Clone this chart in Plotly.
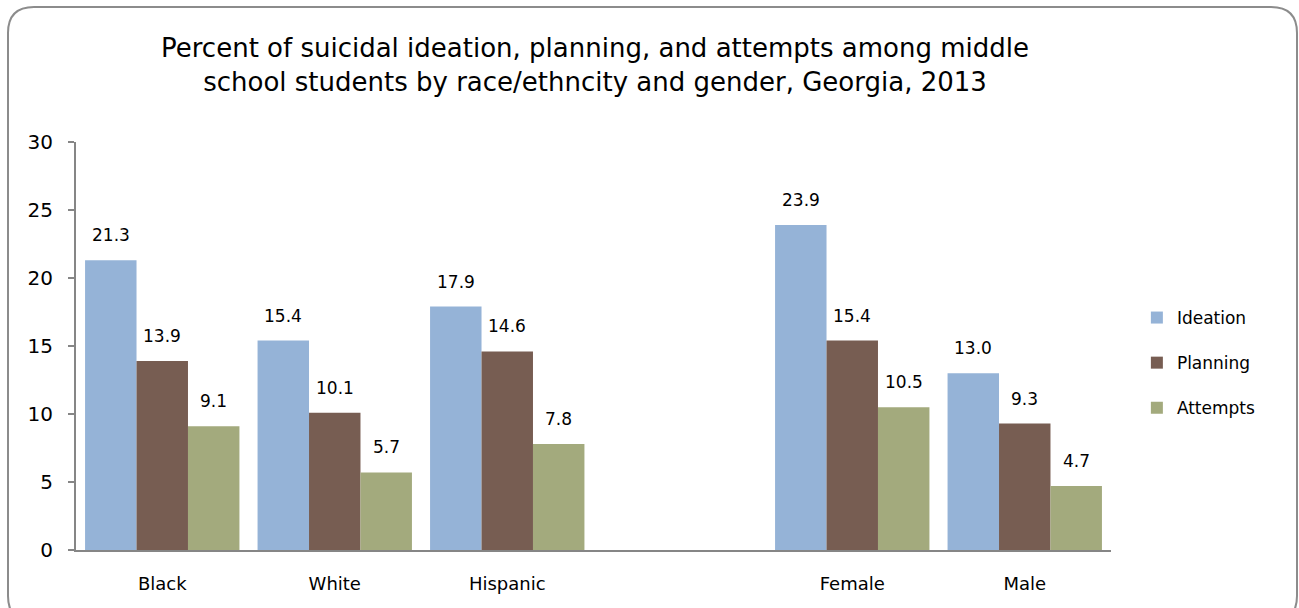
import plotly.graph_objects as go

# Chart data
categories = ["Black", "White", "Hispanic", " ", "Female", "Male"]
ideation = [21.3, 15.4, 17.9, None, 23.9, 13.0]
planning = [13.9, 10.1, 14.6, None, 15.4, 9.3]
attempts = [9.1, 5.7, 7.8, None, 10.5, 4.7]
series_names = ["Ideation", "Planning", "Attempts"]
series_colors = ["#95B3D7", "#775D52", "#A3AA7D"]
y_ticks = [0, 5, 10, 15, 20, 25, 30]

FONT = "DejaVu Sans"
W, H = 1299, 608
ML, MR, MT, MB = 76, 188, 142, 58
PW = W - ML - MR
PH = H - MT - MB
BARGAP = 0.105

fig = go.Figure()
series = [ideation, planning, attempts]
for name, vals, col in zip(series_names, series, series_colors):
    fig.add_trace(go.Bar(
        x=categories, y=vals, name=name, legendgroup=name,
        marker=dict(color=col, line=dict(width=0)),
    ))

# value labels above each bar
cat_px = PW / len(categories)
bar_px = cat_px * (1 - BARGAP) / len(series)
for i, vals in enumerate(series):
    for c, v in zip(categories, vals):
        if v is None:
            continue
        fig.add_annotation(
            x=c, y=v, text=f"{v:.1f}", showarrow=False,
            xshift=(i - 1) * bar_px, yshift=13, yanchor="bottom",
            font=dict(family=FONT, size=17, color="#000000"),
        )

# rounded outer frame, defined in pixels and converted to paper coordinates
def px(xp, yp):
    return (xp - ML) / PW, (H - MB - yp) / PH

x0, y0, x1, y1, r = 8, 7, 1297, 622, 26
pts = [
    ("M", [(x0 + r, y0)]),
    ("L", [(x1 - r, y0)]),
    ("Q", [(x1, y0), (x1, y0 + r)]),
    ("L", [(x1, y1 - r)]),
    ("Q", [(x1, y1), (x1 - r, y1)]),
    ("L", [(x0 + r, y1)]),
    ("Q", [(x0, y1), (x0, y1 - r)]),
    ("L", [(x0, y0 + r)]),
    ("Q", [(x0, y0), (x0 + r, y0)]),
]
path = ""
for cmd, ps in pts:
    path += cmd + " " + " ".join("{:.5f},{:.5f}".format(*px(a, b)) for a, b in ps) + " "
path += "Z"
fig.add_shape(type="path", path=path, xref="paper", yref="paper",
              line=dict(color="#8C8C8C", width=2), layer="above")

fig.update_layout(
    width=W, height=H,
    margin=dict(l=ML, r=MR, t=MT, b=MB),
    paper_bgcolor="white", plot_bgcolor="white",
    barmode="group", bargap=BARGAP, bargroupgap=0,
    font=dict(family=FONT, color="#000000"),
    title=dict(
        text="Percent of suicidal ideation, planning, and attempts among middle<br>"
             "school students by race/ethncity and gender, Georgia, 2013",
        x=(595 - ML) / PW, xref="paper", xanchor="center",
        y=1 - 57 / H, yanchor="middle",
        font=dict(family=FONT, size=26, color="#000000"),
    ),
    legend=dict(
        x=1.025, xanchor="left", y=(550 - 363) / PH, yanchor="middle",
        font=dict(family=FONT, size=17),
        itemwidth=30, tracegroupgap=20,
    ),
    xaxis=dict(
        type="category", showline=True, linecolor="#868686", linewidth=2,
        ticks="", tickfont=dict(family=FONT, size=18),
        ticklabelstandoff=16, showgrid=False,
    ),
    yaxis=dict(
        range=[0, 30], tickvals=y_ticks, showline=True, linecolor="#868686",
        linewidth=2, ticks="outside", ticklen=6, tickcolor="#868686",
        tickwidth=2, showgrid=False, zeroline=False,
        ticklabelstandoff=11,
        tickfont=dict(family=FONT, size=20),
    ),
)

fig.write_html("out.html")
